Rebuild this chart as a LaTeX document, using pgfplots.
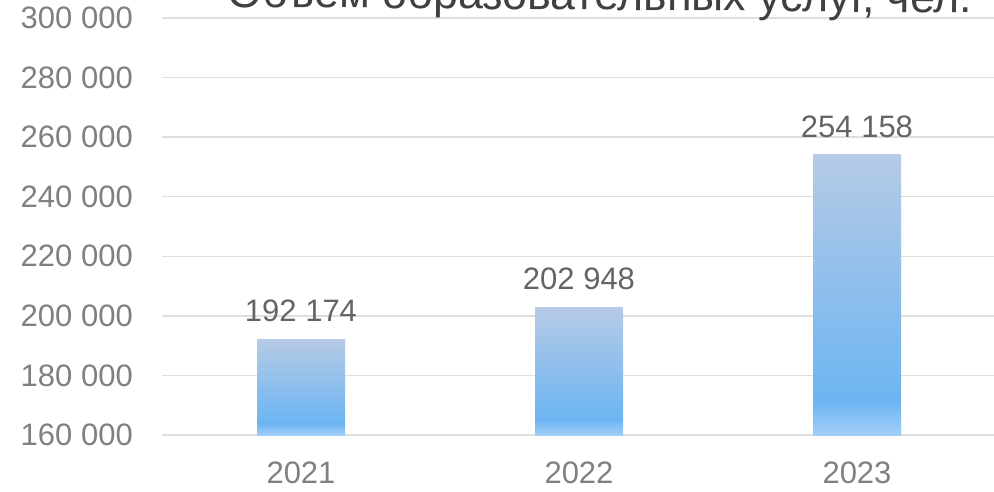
\documentclass[border=0pt]{standalone}
\usepackage{fontspec}
\setmainfont{Liberation Sans}
\usepackage{pgfplots}
\pgfplotsset{compat=1.18}
\definecolor{gridc}{RGB}{222,222,222}
\definecolor{tickc}{RGB}{128,128,128}
\definecolor{labc}{RGB}{100,100,100}
\definecolor{titc}{RGB}{64,64,64}
\definecolor{bbot}{RGB}{162,206,248}
\definecolor{bmid}{RGB}{108,181,242}
\definecolor{btop}{RGB}{182,202,230}
\pgfdeclareverticalshading{barshade}{100bp}{color(0bp)=(bbot); color(25bp)=(bbot); color(31bp)=(bmid); color(75bp)=(btop); color(100bp)=(btop)}
\begin{document}
\begin{tikzpicture}
\useasboundingbox (0pt,0pt) rectangle (994pt,491pt);
\clip (0pt,0pt) rectangle (994pt,491pt);
\begin{axis}[
  at={(162pt,56pt)}, anchor=south west,
  scale only axis, width=834pt, height=417pt,
  xmin=-0.5, xmax=2.5, ymin=160000, ymax=300000,
  scaled y ticks=false,
  axis line style={draw=none},
  major tick length=0pt,
  ytick={160000,180000,200000,220000,240000,260000,280000,300000},
  yticklabels={160 000,180 000,200 000,220 000,240 000,260 000,280 000,300 000},
  xtick={0,1,2},
  xticklabels={2021,2022,2023},
  ymajorgrids, grid style={gridc, line width=1.3pt},
  yticklabel style={font=\fontsize{31pt}{36pt}\selectfont, text=tickc, anchor=east, inner sep=0pt, xshift=-29pt},
  xticklabel style={font=\fontsize{31pt}{36pt}\selectfont, text=tickc, anchor=north, inner sep=0pt, yshift=-27pt},
  ybar, bar width=88pt,
  point meta=explicit symbolic,
  nodes near coords,
  every node near coord/.append style={font=\fontsize{31pt}{36pt}\selectfont, text=labc, anchor=south, inner sep=0pt, yshift=17pt},
  clip=false,
]
\addplot[draw=none, shading=barshade, bar shift=0pt] coordinates {(0,192174) [192 174]};
\addplot[draw=none, shading=barshade, bar shift=0pt] coordinates {(1,202948) [202 948]};
\addplot[draw=none, shading=barshade, bar shift=0pt] coordinates {(2,254158) [254 158]};
\end{axis}
\node[anchor=base, text=titc, font=\fontsize{44.7pt}{50pt}\selectfont, inner sep=0pt, rotate=-0.46] at (600pt,481pt) {Объем образовательных услуг, чел.};
\end{tikzpicture}
\end{document}
